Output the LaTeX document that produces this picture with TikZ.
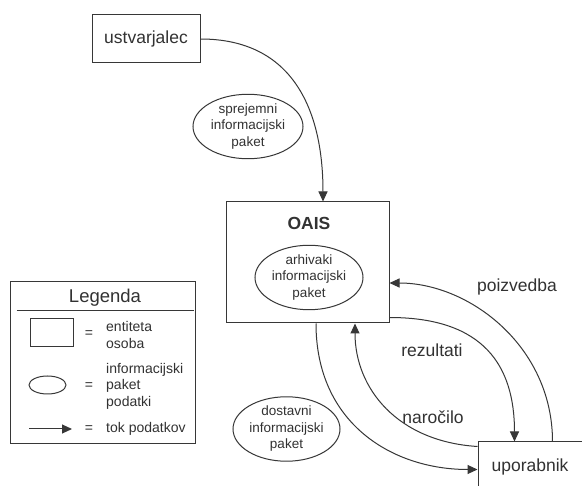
\documentclass[tikz,border=0pt]{standalone}
\usepackage{fontspec}
\setmainfont{Liberation Sans}
\usetikzlibrary{arrows.meta,calc,shapes.geometric}
\definecolor{ink}{RGB}{55,55,55}
\definecolor{txt}{RGB}{50,50,50}
\tikzset{
  entity/.style={draw=ink, line width=1pt, rectangle, inner sep=0pt, text=txt, font=\fontsize{17.5}{20}\selectfont},
  packet/.style={draw=ink, line width=1pt, ellipse, inner sep=0pt, text=txt, align=center, font=\fontsize{13.5}{16.5}\selectfont},
  flow/.style={draw=ink, line width=1pt, -{Triangle[length=10pt,width=9pt]}},
  flowlabel/.style={text=txt, inner sep=1pt, font=\fontsize{17.5}{20}\selectfont},
  legtext/.style={text=txt, inner sep=0pt, align=left, anchor=west, font=\fontsize{14}{16.5}\selectfont},
  eqsign/.style={text=txt, inner sep=0pt, font=\fontsize{14}{16.5}\selectfont}
}
\begin{document}
\begin{tikzpicture}[x=1pt,y=-1pt]
\useasboundingbox (0,0) rectangle (582,486);
\clip (0,0) rectangle (582,486);
\fill[white] (0,0) rectangle (582,486);

% entities
\node[entity, minimum width=108pt, minimum height=48pt] (ust) at (146,39) {ustvarjalec};
\node[entity, minimum width=163pt, minimum height=121pt] (oais) at (307.5,262.5) {};
\node[text=txt, inner sep=0pt, font=\bfseries\fontsize{17.5}{20}\selectfont] (oaislabel) at (309,223) {OAIS};
\node[entity, minimum width=106pt, minimum height=52pt] (upo) at (531,468) {};
\node[text=txt, inner sep=0pt, font=\fontsize{17.5}{20}\selectfont] (upolabel) at (530,467) {uporabnik};

% packets
\node[packet, minimum width=110pt, minimum height=63pt] (spr) at (248,126.5) {sprejemni\\informacijski\\paket};
\node[packet, minimum width=108pt, minimum height=64pt] (arh) at (309,277.5) {arhivaki\\informacijski\\paket};
\node[packet, minimum width=107pt, minimum height=58pt] (dos) at (286.5,429) {dostavni\\informacijski\\paket};

% flows
\draw[flow] (ust.east) .. controls +(92,0) and +(0,-92) .. ($(oais.north)+(15.5,0)$);
\draw[flow] ($(upo.north west)+(75,0)$) .. controls +(0,-95) and +(80,0) .. ($(oais.east)+(0,20.5)$);
\draw[flow] ($(oais.south east)+(0,-6)$) .. controls +(95,0) and +(0,-75) .. ($(upo.north west)+(37,0)$);
\draw[flow] ($(upo.north west)+(0,5)$) .. controls +(-80,-5) and +(0,65) .. ($(oais.south)+(47.5,0)$);
\draw[flow] ($(oais.south)+(8.5,0)$) .. controls +(0,100) and +(-85,0) .. ($(upo.north west)+(0,28)$);

\node[flowlabel] (poiz) at (517,287) {poizvedba};
\node[flowlabel] (rez) at (432,350) {rezultati};
\node[flowlabel] (nar) at (433,417) {naročilo};

% legend
\node[draw=ink, line width=1pt, rectangle, minimum width=185pt, minimum height=162pt, inner sep=0pt] (legbox) at (102.5,363) {};
\node[text=txt, inner sep=0pt, font=\fontsize{18.5}{21}\selectfont] (legtitle) at (105,298) {Legenda};
\draw[ink, line width=1pt] ($(legbox.north west)+(7,29)$) -- ($(legbox.north east)+(-2,29)$);

\node[draw=ink, line width=1pt, rectangle, minimum width=43pt, minimum height=28pt, inner sep=0pt] (legrect) at (51.5,333) {};
\node[eqsign] (eq1) at (89,334) {=};
\node[legtext] (t1) at (106,335) {entiteta\\osoba};

\node[draw=ink, line width=1pt, ellipse, minimum width=37pt, minimum height=18pt, inner sep=0pt] (legell) at (47.5,385) {};
\node[eqsign] (eq2) at (89,386) {=};
\node[legtext] (t2) at (106,386) {informacijski\\paket\\podatki};

\coordinate (la) at (29,429);
\coordinate (lb) at (72,429);
\draw[flow] (la) -- (lb);
\node[eqsign] (eq3) at (89,429) {=};
\node[legtext] (t3) at (106,429) {tok podatkov};
\end{tikzpicture}
\end{document}
